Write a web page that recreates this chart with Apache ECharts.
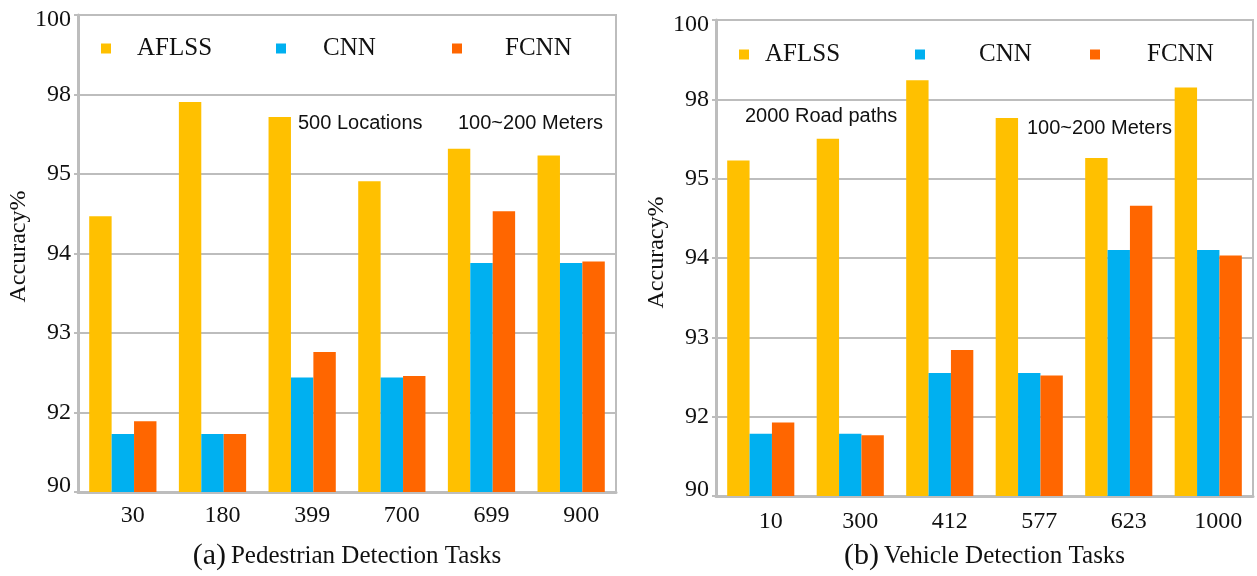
<!DOCTYPE html>
<html><head><meta charset="utf-8">
<script src="https://cdn.jsdelivr.net/npm/echarts@6/dist/echarts.min.js"></script>
<style>html,body{margin:0;padding:0;background:#fff}#c{width:1257px;height:576px}</style>
</head><body><div id="c"></div>
<script>
// tick labels of the (non-uniform) accuracy axis, bottom to top
const yTickLabels = [90, 92, 93, 94, 95, 98, 100];
const seriesNames = ['AFLSS', 'CNN', 'FCNN'];

// (a) Pedestrian Detection Tasks
const categoriesA = ['30', '180', '399', '700', '699', '900'];
const aflssA = [94.47, 97.72, 97.15, 94.91, 95.95, 95.70];
const cnnA   = [91.46, 91.46, 92.44, 92.44, 93.88, 93.88];
const fcnnA  = [91.78, 91.46, 92.76, 92.46, 94.53, 93.90];

// (b) Vehicle Detection Tasks
const categoriesB = ['10', '300', '412', '577', '623', '1000'];
const aflssB = [95.69, 96.51, 98.48, 97.29, 95.78, 98.30];
const cnnB   = [91.57, 91.57, 92.55, 92.55, 94.10, 94.10];
const fcnnB  = [91.85, 91.53, 92.84, 92.52, 94.66, 94.03];

const colors = ['#FFC000', '#00B0F0', '#FF6600'];
const gridGray = '#BDBDBD';
const serif = '"Liberation Serif", "Times New Roman", serif';
const sans = '"Liberation Sans", Arial, sans-serif';

// piecewise-linear mapping of an accuracy value onto the evenly spaced tick positions
function toPos(v) {
  for (let k = 0; k < yTickLabels.length - 1; k++) {
    const a = yTickLabels[k], b = yTickLabels[k + 1];
    if (v <= b || k === yTickLabels.length - 2) return k + (v - a) / (b - a);
  }
}

function xAxisFor(idx, cats, nameRich, nameGap, margin) {
  return {
    type: 'category', gridIndex: idx, data: cats,
    axisLine: { lineStyle: { color: gridGray, width: 3 } },
    axisTick: { show: false },
    axisLabel: { color: '#111', fontFamily: serif, fontSize: 24, margin: margin, padding: [0, 0, 0, 20] },
    name: nameRich, nameLocation: 'middle', nameGap: nameGap,
    nameTextStyle: {
      color: '#111', fontFamily: serif,
      rich: {
        p: { fontSize: 30, fontFamily: serif, color: '#111', padding: [0, 5, 0, 0] },
        t: { fontSize: 25, fontFamily: serif, color: '#111' }
      }
    }
  };
}
function yAxisFor(idx, nameGap, namePad) {
  const lastIdx = yTickLabels.length - 1;
  return {
    type: 'value', gridIndex: idx, min: 0, max: lastIdx, interval: 1,
    axisLine: { show: true, lineStyle: { color: gridGray, width: 3 } },
    axisTick: { show: true, length: 4, lineStyle: { color: gridGray, width: 2 } },
    splitLine: { show: true, lineStyle: { color: gridGray, width: 2 } },
    axisLabel: {
      color: '#111', fontFamily: serif, fontSize: 24, margin: 7,
      formatter: v => {
        const i = Math.round(v), s = String(yTickLabels[i]);
        if (i === lastIdx) return '{hi|' + s + '}';
        if (i === 0) return '{lo|' + s + '}';
        return s;
      },
      rich: {
        hi: { fontFamily: serif, fontSize: 24, color: '#111', padding: [10, 0, 0, 0] },
        lo: { fontFamily: serif, fontSize: 24, color: '#111', padding: [0, 0, 12, 0] }
      }
    },
    name: 'Accuracy%', nameLocation: 'middle', nameGap: nameGap, nameRotate: 90,
    nameTextStyle: { color: '#111', fontFamily: serif, fontSize: 24, padding: [0, 0, 0, namePad] }
  };
}
function barSeries(idx, name, vals, color) {
  return {
    type: 'bar', name: name, xAxisIndex: idx, yAxisIndex: idx,
    data: vals.map(v => ({ value: toPos(v), raw: v })),
    itemStyle: { color: color },
    barGap: '0%', barCategoryGap: '25%'
  };
}
function legendItem(name, left, top, pad) {
  return {
    data: [name], left: left, top: top, padding: 0, icon: 'rect', itemWidth: 10, itemHeight: 10,
    textStyle: { fontFamily: serif, fontSize: 25, color: '#111', padding: [0, 0, 0, pad] }
  };
}

const chart = echarts.init(document.getElementById('c'), null, { renderer: 'canvas' });
chart.setOption({
  backgroundColor: '#fff',
  animation: false,
  color: colors,
  tooltip: { trigger: 'item', formatter: p => p.seriesName + ' ' + p.name + ': ' + p.data.raw },
  grid: [
    { left: 78, top: 15, width: 538, height: 479, show: true, borderColor: gridGray, borderWidth: 2 },
    { left: 716, top: 20, width: 537, height: 479, show: true, borderColor: gridGray, borderWidth: 2 }
  ],
  legend: [
    legendItem('AFLSS', 101, 36, 21),
    legendItem('CNN', 276, 36, 32),
    legendItem('FCNN', 452, 36, 38),
    legendItem('AFLSS', 739, 42, 11),
    legendItem('CNN', 915, 42, 49),
    legendItem('FCNN', 1090, 42, 42)
  ],
  xAxis: [
    xAxisFor(0, categoriesA, '{p|(a)}{t|Pedestrian Detection Tasks}', 49, 12),
    xAxisFor(1, categoriesB, '{p|(b)}{t|Vehicle Detection Tasks}', 45, 14)
  ],
  yAxis: [yAxisFor(0, 46, 14), yAxisFor(1, 47, 11)],
  series: [
    barSeries(0, seriesNames[0], aflssA, colors[0]),
    barSeries(0, seriesNames[1], cnnA, colors[1]),
    barSeries(0, seriesNames[2], fcnnA, colors[2]),
    barSeries(1, seriesNames[0], aflssB, colors[0]),
    barSeries(1, seriesNames[1], cnnB, colors[1]),
    barSeries(1, seriesNames[2], fcnnB, colors[2])
  ],
  graphic: [
    { type: 'text', left: 298, top: 113, style: { text: '500 Locations', font: '20px ' + sans, fill: '#111' } },
    { type: 'text', left: 458, top: 113, style: { text: '100~200 Meters', font: '20px ' + sans, fill: '#111' } },
    { type: 'text', left: 745, top: 106, style: { text: '2000 Road paths', font: '20px ' + sans, fill: '#111' } },
    { type: 'text', left: 1027, top: 118, style: { text: '100~200 Meters', font: '20px ' + sans, fill: '#111' } }
  ]
});
</script>
</body></html>
